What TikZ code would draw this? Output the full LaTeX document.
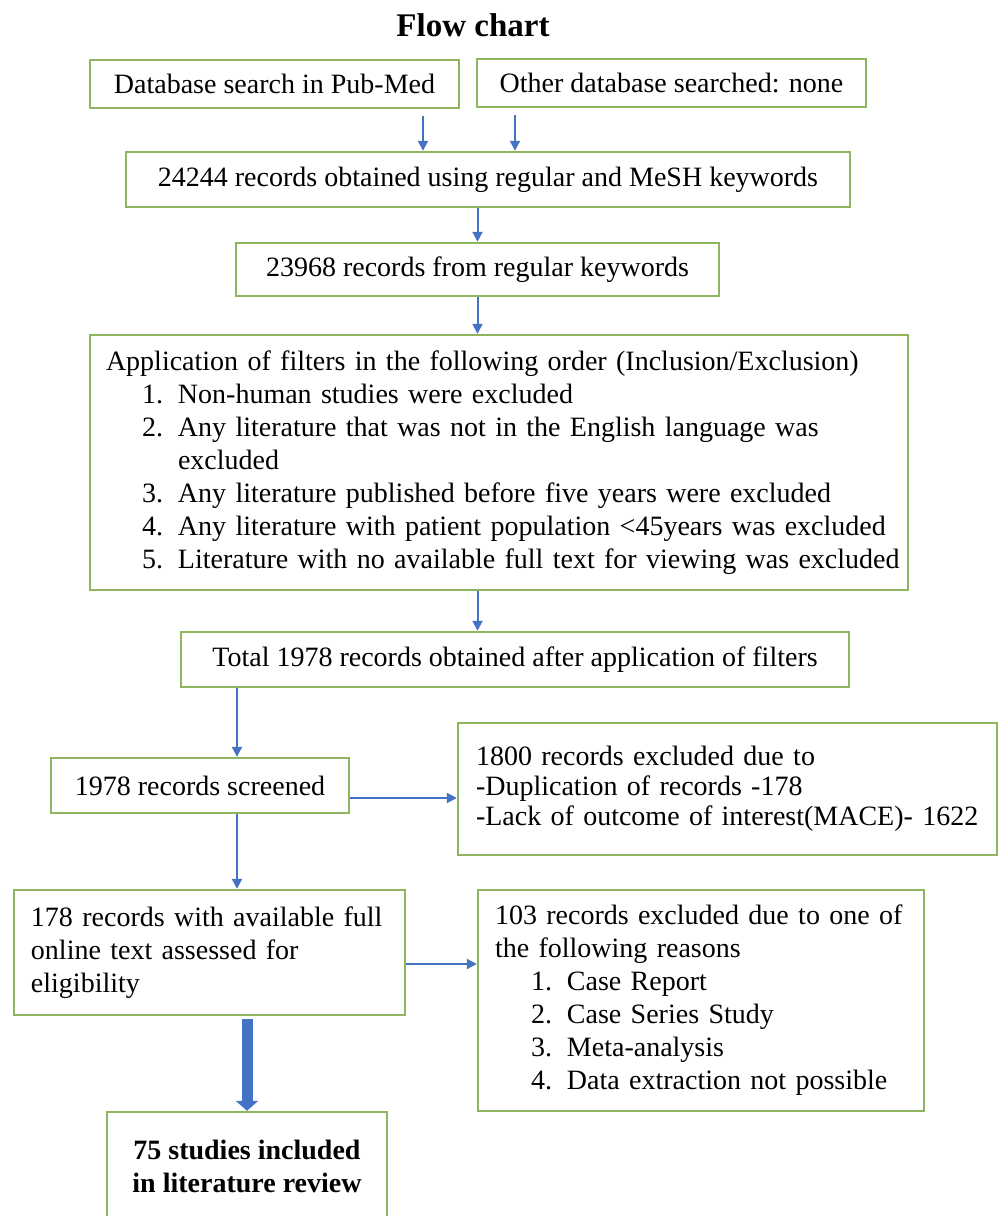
\documentclass[tikz,border=0pt]{standalone}
\usepackage{fontspec}
\setmainfont{Liberation Serif}
\usetikzlibrary{arrows.meta,positioning,calc}
\definecolor{boxgreen}{HTML}{8FB55E}
\definecolor{arrowblue}{HTML}{4472C4}
\newcommand{\listitem}[2]{\hspace*{18pt}\makebox[18pt][l]{#1.}\mbox{#2}}
\tikzset{
  box/.style={draw=boxgreen,line width=1.2pt,font=\fontsize{14}{16.5}\selectfont,
    align=center,inner sep=0pt},
  listbox/.style={box,align=left,inner ysep=0pt},
  arrow/.style={-{Triangle[length=5pt,width=5pt]},line width=1pt,draw=arrowblue},
  bigarrow/.style={-{Triangle[length=5pt,width=11pt]},line width=5.5pt,draw=arrowblue},
  heading/.style={font=\fontsize{16.5}{20}\selectfont\bfseries}
}

\begin{document}
\begin{tikzpicture}[x=0.5pt,y=-0.5pt]
  \useasboundingbox (0,0) rectangle (1000,1216);
  \clip (0,0) rectangle (1000,1216);

  \node[heading] (title) at (473,25) {Flow chart};

  % search sources
  \node[box,minimum width=184.5pt,minimum height=24pt] (pubmed) at (274.5,84) {Database search in Pub-Med};
  \node[box,minimum width=194.5pt,minimum height=24pt] (otherdb) at (671.5,83) {Other database searched: none};
  \node[box,minimum width=362pt,minimum height=27.5pt] (records) at (488,179.5) {24244 records obtained using regular and MeSH keywords};
  \node[box,minimum width=241.5pt,minimum height=26.5pt] (regular) at (477.5,269.5) {23968 records from regular keywords};

  % filters
  \node[listbox,inner xsep=8pt,text width=393pt,minimum height=127.5pt] (filters) at (499,462.5) {%
    \mbox{Application of filters in the following order (Inclusion/Exclusion)}\\
    \listitem{1}{Non-human studies were excluded}\\
    \listitem{2}{Any literature that was not in the English language was}\\
    \hspace*{36pt}excluded\\
    \listitem{3}{Any literature published before five years were excluded}\\
    \listitem{4}{Any literature with patient population <45years was excluded}\\
    \listitem{5}{Literature with no available full text for viewing was excluded}};

  \node[box,minimum width=334pt,minimum height=27.5pt] (total) at (515,659.5) {Total 1978 records obtained after application of filters};

  % screening
  \node[box,minimum width=149pt,minimum height=27.5pt] (screened) at (200,785.5) {1978 records screened};
  \node[listbox,inner xsep=9pt,text width=251.5pt,minimum height=66pt,font=\fontsize{14}{15}\selectfont] (excluded) at (727.5,789) {%
    1800 records excluded due to\\
    -Duplication of records -178\\
    \mbox{-Lack of outcome of interest(MACE)- 1622}};

  % eligibility
  \node[listbox,inner xsep=8.5pt,text width=178.5pt,minimum height=62.5pt] (fulltext) at (209.5,952.5) {%
    \mbox{178 records with available full}\\
    online text assessed for\\
    eligibility};
  \node[listbox,inner xsep=8.5pt,text width=206pt,minimum height=110.5pt] (reasons) at (701,1000.5) {%
    \mbox{103 records excluded due to one of}\\
    the following reasons\\
    \listitem{1}{Case Report}\\
    \listitem{2}{Case Series Study}\\
    \listitem{3}{Meta-analysis}\\
    \listitem{4}{Data extraction not possible}};

  \node[box,minimum width=140pt,minimum height=54pt,font=\fontsize{14}{16.5}\selectfont\bfseries] (included) at (247,1166) {75 studies included\\in literature review};

  \coordinate (lane) at (237,700);

  \draw[arrow,shorten <=3.5pt] ([xshift=74.25pt]pubmed.south) -- ([xshift=74.25pt]pubmed.south |- records.north);
  \draw[arrow,shorten <=3.5pt] ([xshift=-78.25pt]otherdb.south) -- ([xshift=-78.25pt]otherdb.south |- records.north);
  \draw[arrow] (records.south -| regular.north) -- (regular.north);
  \draw[arrow] (regular.south) -- (regular.south |- filters.north);
  \draw[arrow] (regular.south |- filters.south) -- (regular.south |- total.north);
  \draw[arrow] (total.south -| lane) -- (screened.north -| lane);
  \draw[arrow] ([yshift=-6.25pt]screened.east) -- ([yshift=-6.25pt]screened.east -| excluded.west);
  \draw[arrow] (screened.south -| lane) -- (fulltext.north -| lane);
  \draw[arrow] ([yshift=-5.75pt]fulltext.east) -- ([yshift=-5.75pt]fulltext.east -| reasons.west);
  \draw[bigarrow,shorten <=1.5pt] (fulltext.south -| included.north) -- (included.north);
\end{tikzpicture}
\end{document}
